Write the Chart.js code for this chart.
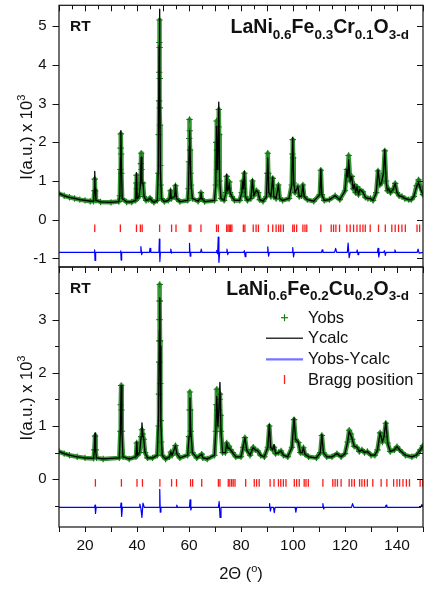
<!DOCTYPE html>
<html>
<head>
<meta charset="utf-8">
<style>
  html, body { margin: 0; padding: 0; background: #fff; }
  #wrap { position: relative; width: 435px; height: 593px; }
  #wrap canvas { position: absolute; left: 0; top: 0; }
</style>
</head>
<body>
<div id="wrap">
  <canvas id="topChart" width="435" height="593"></canvas>
  <canvas id="bottomChart" width="435" height="593"></canvas>
</div>
<script src="https://cdn.jsdelivr.net/npm/chart.js@4.4.1/dist/chart.umd.min.js"></script>
<script>
// 2-theta range and intensity ranges (x 10^3) of the two panels
const xMin = 10, xMax = 150;
const yRangeTop = [-1.22, 5.54];
const yRangeBottom = [-0.9, 3.99];

const sampleLabel = "RT";
const formulaTop = [["LaNi", ""], ["0.6", "sub"], ["Fe", ""], ["0.3", "sub"], ["Cr", ""], ["0.1", "sub"], ["O", ""], ["3-d", "sub"]];
const formulaBottom = [["LaNi", ""], ["0.6", "sub"], ["Fe", ""], ["0.2", "sub"], ["Cu", ""], ["0.2", "sub"], ["O", ""], ["3-d", "sub"]];
const legendNames = ["Yobs", "Ycalc", "Yobs-Ycalc", "Bragg position"];
const yTitle = [["I(a.u.) x 10", ""], ["3", "sup"]];
const xTitle = [["2\u0398 (", ""], ["o", "sup"], [")", ""]];

// LaNi0.6Fe0.3Cr0.1O3-d
const obsTop = [[10,0.68],[12,0.62],[14,0.58],[16,0.55],[18,0.52],[20,0.5],[22,0.48],[23.3,0.48],[23.6,0.75],[23.75,1.05],[23.9,0.75],[24.2,0.5],[26,0.46],[30,0.45],[33,0.47],[33.4,0.62],[33.6,1.3],[33.7,1.85],[33.8,2.22],[33.9,1.7],[34,1.2],[34.3,0.55],[36,0.46],[38,0.46],[39.5,0.5],[39.7,0.95],[39.8,1.15],[39.95,0.8],[40.1,0.55],[40.8,0.6],[41.3,0.9],[41.5,1.45],[41.6,1.72],[41.75,1.3],[41.9,0.95],[42.3,0.95],[42.7,0.6],[43.5,0.5],[44.5,0.52],[45,0.56],[45.6,0.5],[46.5,0.45],[47.8,0.5],[48.2,1.2],[48.4,2.2],[48.5,3.07],[48.55,3.81],[48.6,4.58],[48.65,5.16],[48.7,4.45],[48.75,3.65],[48.8,2.89],[48.85,2.44],[48.95,1.4],[49.1,0.9],[49.4,0.55],[50.5,0.47],[52,0.5],[52.6,0.55],[52.9,0.75],[53.2,0.55],[54.5,0.6],[54.8,0.88],[55.2,0.55],[56.5,0.47],[59.5,0.5],[59.8,0.8],[60,1.5],[60.1,2.1],[60.2,2.59],[60.3,2.3],[60.4,1.8],[60.6,1.2],[60.8,0.9],[61.3,0.55],[63.5,0.48],[64.3,0.55],[64.6,0.7],[64.9,0.55],[66,0.47],[69.8,0.5],[70.3,0.9],[70.5,2],[70.6,2.55],[70.75,1.8],[70.9,1.3],[71.1,1.5],[71.3,2.4],[71.45,2.85],[71.6,2.2],[71.8,1],[72.3,0.55],[73.5,0.5],[74.2,0.7],[74.5,1.12],[74.8,0.75],[75.2,0.8],[75.5,0.98],[75.8,0.7],[76.5,0.6],[77.5,0.5],[79.5,0.5],[80.3,0.7],[80.6,1],[80.9,0.8],[81.3,1.2],[81.7,0.6],[82.5,0.5],[83.8,0.55],[84.4,1],[84.9,0.62],[85.5,0.72],[86,0.75],[86.6,0.7],[87.2,0.52],[88.5,0.48],[89.8,0.6],[90.1,1.2],[90.3,1.72],[90.5,1.2],[90.7,0.7],[91.5,0.6],[92.2,1.07],[92.6,0.6],[93.5,0.55],[94.4,0.9],[94.9,0.55],[96,0.5],[98.5,0.55],[99.5,0.9],[99.75,1.7],[99.9,2.07],[100.05,1.6],[100.3,0.95],[100.8,0.7],[101.9,0.86],[102.4,0.6],[103.3,0.62],[103.8,0.9],[104.3,0.6],[105.5,0.52],[108,0.48],[110.3,0.65],[110.7,1.28],[111.1,0.65],[112,0.5],[114,0.52],[116.2,0.62],[118,0.52],[120,0.75],[120.7,1.3],[121.1,1.15],[121.4,1.66],[122,1],[122.6,1.12],[123.1,0.8],[123.6,0.91],[124.1,0.7],[124.6,0.85],[125.2,0.65],[125.7,0.78],[126.9,0.72],[127.8,0.58],[128.8,0.55],[129.8,0.55],[130.8,0.5],[132,0.7],[132.7,1.26],[133.4,0.9],[134,0.95],[134.8,1.2],[135.3,1.78],[135.8,1],[136.3,0.75],[136.8,0.8],[137.5,0.7],[138.6,0.8],[139.3,0.94],[140,0.7],[140.8,0.62],[141.9,0.6],[143,0.55],[144.5,0.52],[145.5,0.52],[146.5,0.6],[147.5,0.88],[148.3,1.03],[149,0.85],[150,0.65]];
const calcTop = [[10,0.68],[12,0.62],[14,0.58],[16,0.55],[18,0.52],[20,0.5],[22,0.48],[23.3,0.48],[23.6,0.8],[23.75,1.25],[23.9,0.8],[24.2,0.5],[26,0.46],[30,0.45],[33,0.47],[33.4,0.62],[33.65,1.6],[33.8,2.3],[33.95,1.6],[34.3,0.55],[36,0.46],[38,0.46],[39.5,0.5],[39.8,1.21],[40.1,0.55],[40.8,0.6],[41.3,0.9],[41.6,1.62],[41.9,0.95],[42.3,0.95],[42.7,0.6],[43.5,0.5],[44.5,0.52],[45,0.56],[45.6,0.5],[46.5,0.45],[47.8,0.5],[48.2,1.3],[48.5,4.5],[48.65,5.44],[48.8,4],[49,1.3],[49.4,0.55],[50.5,0.47],[52,0.5],[52.6,0.55],[52.9,0.78],[53.2,0.55],[54.5,0.6],[54.8,0.91],[55.2,0.55],[56.5,0.47],[59.5,0.5],[59.8,0.8],[60.1,1.9],[60.25,2.3],[60.4,1.8],[60.8,0.9],[61.3,0.55],[63.5,0.48],[64.3,0.55],[64.6,0.7],[64.9,0.55],[66,0.47],[69.8,0.5],[70.3,0.9],[70.6,2.42],[70.9,1.3],[71.1,1.5],[71.45,3.04],[71.8,1],[72.3,0.55],[73.5,0.5],[74.2,0.7],[74.5,1.17],[74.8,0.75],[75.2,0.8],[75.5,0.95],[75.8,0.7],[76.5,0.6],[77.5,0.5],[79.5,0.5],[80.3,0.7],[80.6,1],[80.9,0.8],[81.3,1.25],[81.7,0.6],[82.5,0.5],[83.8,0.55],[84.4,1.04],[84.9,0.62],[85.5,0.72],[86,0.75],[86.6,0.7],[87.2,0.52],[88.5,0.48],[89.8,0.6],[90.3,1.6],[90.7,0.7],[91.5,0.6],[92.2,1.1],[92.6,0.6],[93.5,0.55],[94.4,0.9],[94.9,0.55],[96,0.5],[98.5,0.55],[99.5,0.9],[99.9,2.12],[100.3,0.95],[100.8,0.7],[101.9,0.86],[102.4,0.6],[103.3,0.62],[103.8,0.9],[104.3,0.6],[105.5,0.52],[108,0.48],[110.3,0.65],[110.7,1.31],[111.1,0.65],[112,0.5],[114,0.52],[116.2,0.62],[118,0.52],[120,0.75],[120.7,1.3],[121.1,1.1],[121.4,1.55],[122,1],[122.6,1.12],[123.1,0.8],[123.6,0.91],[124.1,0.7],[124.6,0.85],[125.2,0.65],[125.7,0.78],[126.9,0.72],[127.8,0.58],[128.8,0.55],[129.8,0.55],[130.8,0.5],[132,0.7],[132.7,1.28],[133.4,0.9],[134,0.95],[134.8,1.2],[135.3,1.81],[135.8,1],[136.3,0.75],[136.8,0.8],[137.5,0.7],[138.6,0.8],[139.3,0.94],[140,0.7],[140.8,0.62],[141.9,0.6],[143,0.55],[144.5,0.52],[145.5,0.52],[146.5,0.6],[147.5,0.85],[148.3,0.96],[149,0.8],[150,0.65]];
const diffTop = [[10,-0.84],[23.5,-0.84],[23.7,-0.78],[23.85,-1.05],[24.1,-0.84],[33.6,-0.84],[33.75,-0.8],[33.9,-1.04],[34.1,-0.84],[41.3,-0.84],[41.5,-0.69],[41.8,-0.9],[42.1,-0.84],[44.8,-0.84],[45,-0.74],[45.3,-0.84],[48.45,-0.84],[48.6,-0.5],[48.8,-1.08],[49,-0.84],[52.8,-0.84],[53,-0.76],[53.3,-0.86],[53.5,-0.84],[60,-0.84],[60.2,-0.61],[60.45,-0.94],[60.7,-0.84],[64.5,-0.84],[64.7,-0.76],[65,-0.84],[70.4,-0.84],[70.7,-0.79],[71,-0.88],[71.25,-0.45],[71.5,-1.1],[71.8,-0.84],[74.4,-0.84],[74.6,-0.76],[74.9,-0.9],[75.2,-0.84],[81,-0.84],[81.3,-0.8],[81.6,-0.95],[81.9,-0.84],[90.1,-0.84],[90.3,-0.7],[90.6,-0.94],[90.9,-0.84],[99.7,-0.84],[99.9,-0.72],[100.2,-0.96],[100.5,-0.84],[111,-0.84],[111.2,-0.78],[111.5,-0.84],[116,-0.84],[116.4,-0.74],[116.8,-0.84],[120.9,-0.84],[121.2,-0.6],[121.6,-0.98],[122,-0.84],[124.5,-0.84],[124.7,-0.78],[125,-0.9],[125.3,-0.84],[132.5,-0.84],[132.7,-0.74],[133,-0.96],[133.3,-0.84],[134.9,-0.84],[135.2,-0.8],[135.5,-0.92],[135.8,-0.84],[139,-0.84],[139.2,-0.78],[139.5,-0.84],[147.8,-0.84],[148.1,-0.76],[148.5,-0.86],[150,-0.84]];
const braggTop = [23.75,33.6,39.8,41.3,42.0,48.7,53.3,55.0,60.1,60.7,64.6,70.6,71.3,74.5,75.0,75.5,76.0,76.5,80.9,81.5,84.7,85.8,86.7,90.5,92.2,93.5,94.5,95.3,96.3,99.9,100.5,101.4,103.8,104.6,105.3,110.7,114.7,115.6,116.5,117.9,120.7,122.0,123.3,124.6,125.8,126.9,127.8,129.7,132.9,135.5,138.0,139.3,140.6,141.9,143.2,147.7,148.7];
const braggLevelTop = -0.22;

// LaNi0.6Fe0.2Cu0.2O3-d
const obsBottom = [[10,0.52],[12,0.48],[14,0.45],[17,0.42],[20,0.4],[23.3,0.39],[23.6,0.55],[23.85,0.81],[24.1,0.55],[24.4,0.4],[27,0.38],[33.2,0.4],[33.6,0.9],[33.75,1.4],[33.9,1.76],[34.05,1.3],[34.2,0.9],[34.6,0.42],[37,0.38],[39.6,0.42],[39.9,0.68],[40.2,0.45],[41,0.5],[41.6,0.8],[41.9,0.93],[42.2,0.85],[42.6,0.75],[43.1,0.5],[44,0.4],[46,0.4],[47.8,0.45],[48.3,1],[48.45,1.6],[48.55,2.2],[48.6,2.6],[48.65,3],[48.7,3.35],[48.75,3.66],[48.8,3.35],[48.85,2.6],[48.95,1.8],[49.1,1.1],[49.3,0.7],[49.7,0.45],[51,0.38],[52.5,0.42],[53,0.51],[53.5,0.45],[54.8,0.63],[55.3,0.48],[56.5,0.4],[59.5,0.45],[60,0.8],[60.2,1.3],[60.35,1.64],[60.5,1.3],[60.7,0.9],[61.3,0.5],[63,0.4],[64.9,0.47],[65.3,0.4],[67,0.38],[69.8,0.45],[70.3,0.9],[70.5,1.4],[70.7,1.69],[70.9,1.3],[71.1,1],[71.5,1.3],[71.7,1.5],[71.9,1.6],[72.1,1.2],[72.3,0.9],[72.9,0.5],[74,0.5],[74.5,0.68],[75,0.58],[75.4,0.62],[76,0.55],[76.8,0.5],[78,0.42],[80,0.42],[80.8,0.6],[81.5,0.78],[82.2,0.55],[83.5,0.45],[84.3,0.56],[84.7,0.6],[85.5,0.55],[86.5,0.53],[87.5,0.45],[89,0.42],[90.3,0.6],[90.9,1],[91.4,0.6],[92.2,0.55],[92.7,0.6],[93.3,0.48],[94.5,0.5],[95.4,0.53],[96.3,0.45],[98,0.42],[99.6,0.6],[100.4,1.12],[101,0.75],[102.1,0.69],[102.8,0.5],[103.5,0.5],[104,0.59],[104.6,0.47],[106,0.42],[109,0.4],[110.5,0.5],[111.1,0.82],[111.7,0.5],[113,0.42],[115,0.42],[116.9,0.48],[118.5,0.42],[120,0.48],[121,0.7],[121.6,0.92],[122.3,0.85],[122.8,0.75],[123.5,0.62],[124.6,0.6],[125.5,0.52],[126.5,0.55],[127.5,0.5],[128.6,0.52],[130,0.45],[131.5,0.45],[132.5,0.55],[133.5,0.87],[134.4,0.7],[135,0.8],[135.7,1.05],[136.4,0.68],[137.4,0.52],[139,0.55],[140,0.61],[141,0.55],[143.2,0.45],[145.7,0.42],[147.5,0.45],[149,0.55],[150,0.63]];
const calcBottom = [[10,0.52],[12,0.48],[14,0.45],[17,0.42],[20,0.4],[23.3,0.39],[23.6,0.55],[23.85,0.87],[24.1,0.55],[24.4,0.4],[27,0.38],[33.2,0.4],[33.6,0.9],[33.9,1.76],[34.2,0.9],[34.6,0.42],[37,0.38],[39.6,0.42],[39.9,0.7],[40.2,0.45],[41,0.5],[41.6,0.8],[41.9,1.06],[42.2,0.85],[42.6,0.75],[43.1,0.5],[44,0.4],[46,0.4],[47.8,0.45],[48.3,1.2],[48.6,2.8],[48.75,3.41],[48.9,2.5],[49.2,1],[49.7,0.45],[51,0.38],[52.5,0.42],[53,0.51],[53.5,0.45],[54.8,0.63],[55.3,0.48],[56.5,0.4],[59.5,0.45],[60,0.8],[60.35,1.53],[60.7,0.9],[61.3,0.5],[63,0.4],[64.9,0.47],[65.3,0.4],[67,0.38],[69.8,0.45],[70.3,0.9],[70.7,1.56],[71.1,1],[71.5,1.3],[71.9,1.82],[72.3,0.9],[72.9,0.5],[74,0.5],[74.5,0.68],[75,0.58],[75.4,0.59],[76,0.55],[76.8,0.5],[78,0.42],[80,0.42],[80.8,0.6],[81.5,0.78],[82.2,0.55],[83.5,0.45],[84.3,0.56],[84.7,0.59],[85.5,0.55],[86.5,0.53],[87.5,0.45],[89,0.42],[90.3,0.6],[90.9,1.03],[91.4,0.6],[92.2,0.55],[92.7,0.65],[93.3,0.48],[94.5,0.5],[95.4,0.53],[96.3,0.45],[98,0.42],[99.6,0.6],[100.4,1.15],[101,0.75],[102.1,0.69],[102.8,0.5],[103.5,0.5],[104,0.59],[104.6,0.47],[106,0.42],[109,0.4],[110.5,0.5],[111.1,0.84],[111.7,0.5],[113,0.42],[115,0.42],[116.9,0.48],[118.5,0.42],[120,0.48],[121,0.7],[121.6,0.9],[122.3,0.82],[122.8,0.75],[123.5,0.62],[124.6,0.6],[125.5,0.52],[126.5,0.55],[127.5,0.5],[128.6,0.52],[130,0.45],[131.5,0.45],[132.5,0.55],[133.5,0.87],[134.4,0.7],[135,0.8],[135.7,1.07],[136.4,0.68],[137.4,0.52],[139,0.55],[140,0.61],[141,0.55],[143.2,0.45],[145.7,0.42],[147.5,0.45],[149,0.55],[150,0.63]];
const diffBottom = [[10,-0.53],[23.7,-0.53],[23.85,-0.49],[24.05,-0.645],[24.3,-0.53],[33.7,-0.53],[33.85,-0.45],[34.1,-0.7],[34.4,-0.53],[40.8,-0.53],[41.1,-0.47],[41.5,-0.55],[41.9,-0.72],[42.3,-0.45],[42.8,-0.53],[48.6,-0.53],[48.75,-0.19],[48.95,-0.62],[49.2,-0.53],[55,-0.53],[55.3,-0.49],[55.6,-0.53],[60.2,-0.53],[60.4,-0.39],[60.7,-0.58],[61,-0.53],[71.3,-0.53],[71.6,-0.42],[71.95,-0.72],[72.3,-0.53],[90.8,-0.53],[91,-0.46],[91.3,-0.6],[91.6,-0.53],[92.5,-0.53],[92.8,-0.63],[93.1,-0.53],[100.8,-0.53],[101.1,-0.62],[101.4,-0.53],[111.3,-0.53],[111.5,-0.46],[111.8,-0.56],[112.1,-0.53],[122.5,-0.53],[122.9,-0.46],[123.4,-0.53],[135.5,-0.53],[135.8,-0.49],[136.1,-0.53],[149,-0.53],[149.6,-0.48],[150,-0.5]];
const braggBottom = [24.0,34.0,40.0,42.1,48.8,53.3,55.2,60.6,61.4,64.9,71.3,71.9,75.1,75.7,76.4,77.0,77.7,81.8,85.1,86.0,87.0,91.2,92.7,94.4,95.3,96.3,97.3,100.5,101.4,102.4,104.3,105.0,105.9,111.5,115.3,116.2,117.1,118.5,121.6,122.6,123.6,125.6,126.5,127.5,128.6,130.7,133.9,136.1,138.7,140.0,141.0,142.3,143.6,144.8,148.9,149.9];
const braggLevelBottom = -0.07;

const FONT = "'Liberation Sans', Arial, sans-serif";
const INK = "#111";

Chart.defaults.font.family = FONT;
Chart.defaults.color = INK;

// draws a run of text pieces, some of them sub/superscripted
function drawRich(ctx, parts, x, y, align, size, small, weight) {
  const fontOf = mode => weight + " " + (mode ? small : size) + "px " + FONT;
  let total = 0;
  for (const [t, mode] of parts) {
    ctx.font = fontOf(mode);
    total += ctx.measureText(t).width;
  }
  let cx = align === "right" ? x - total : align === "center" ? x - total / 2 : x;
  ctx.textAlign = "left";
  ctx.textBaseline = "alphabetic";
  for (const [t, mode] of parts) {
    ctx.font = fontOf(mode);
    const dy = mode === "sub" ? size * 0.28 : mode === "sup" ? -size * 0.42 : 0;
    ctx.fillText(t, cx, y + dy);
    cx += ctx.measureText(t).width;
  }
}

const panelDecor = {
  id: "panelDecor",
  afterDatasetsDraw(chart, args, o) {
    const { ctx, chartArea: a } = chart;
    const xs = chart.scales.x, ys = chart.scales.y;
    const seg = (x1, y1, x2, y2) => {
      ctx.beginPath(); ctx.moveTo(x1, y1); ctx.lineTo(x2, y2); ctx.stroke();
    };
    ctx.save();
    ctx.strokeStyle = INK;
    ctx.lineWidth = 1.2;
    ctx.strokeRect(a.left, a.top, a.right - a.left, a.bottom - a.top);

    // y ticks: out on the left, in on the right
    ctx.lineWidth = 1;
    ys.ticks.forEach(t => {
      const p = Math.round(ys.getPixelForValue(t.value)) + 0.5;
      const major = Number.isInteger(t.value);
      seg(a.left - (major ? 6.5 : 4), p, a.left, p);
      seg(a.right - (major ? 6 : 4), p, a.right, p);
    });
    // x ticks along the top edge, every 5 deg, pointing in
    for (let v = xMin; v <= xMax; v += 5) {
      const p = Math.round(xs.getPixelForValue(v)) + 0.5;
      seg(p, a.top, p, a.top + (v % 10 === 0 ? 6 : 4));
    }
    if (o.xAxis) {
      for (let v = xMin; v <= xMax; v += 10) {
        const p = Math.round(xs.getPixelForValue(v)) + 0.5;
        seg(p, a.bottom, p, a.bottom + 5);
      }
      ctx.fillStyle = INK;
      drawRich(ctx, xTitle, (a.left + a.right) / 2, chart.height - 14, "center", 16.5, 11, "normal");
    }

    ctx.fillStyle = INK;
    ctx.font = "bold 15.5px " + FONT;
    ctx.textAlign = "left";
    ctx.fillText(sampleLabel, a.left + 11, a.top + 26);
    drawRich(ctx, o.formula, a.right - 14, a.top + 27.8, "right", 19.5, 13.5, "bold");

    // rotated y title
    ctx.save();
    ctx.translate(32, (a.top + a.bottom) / 2 + 1);
    ctx.rotate(-Math.PI / 2);
    drawRich(ctx, yTitle, 0, 0, "center", 16.5, 11, "normal");
    ctx.restore();

    if (o.legend) {
      const tx = 308, sx = 284.5, rows = [a.top + 55.7, a.top + 76.3, a.top + 97.3, a.top + 118];
      ctx.font = "16.5px " + FONT;
      legendNames.forEach((n, i) => ctx.fillText(n, tx, rows[i]));
      ctx.strokeStyle = "#128212"; ctx.lineWidth = 1.2;
      seg(sx - 3.5, rows[0] - 5, sx + 3.5, rows[0] - 5);
      seg(sx, rows[0] - 8.5, sx, rows[0] - 1.5);
      ctx.strokeStyle = "#333"; ctx.lineWidth = 1.4;
      seg(266, rows[1] - 5, 303, rows[1] - 5);
      ctx.strokeStyle = "#7474ff"; ctx.lineWidth = 2.2;
      seg(266, rows[2] - 5, 303, rows[2] - 5);
      ctx.strokeStyle = "#ff2020"; ctx.lineWidth = 1.3;
      seg(sx, rows[3] - 10, sx, rows[3] - 1);
    }
    ctx.restore();
  }
};

function makePanel(canvasId, obs, calc, diff, bragg, braggLevel, yRange, pad, withXAxis, formula) {
  return new Chart(document.getElementById(canvasId), {
    type: "line",
    data: {
      datasets: [
        { label: "Ycalc", data: calc, borderColor: "#000", borderWidth: 1.3, pointRadius: 0, tension: 0,
          borderJoinStyle: "round" },
        { label: "Yobs", data: obs, borderColor: "rgba(18,130,18,0.85)", borderWidth: 4.5, tension: 0,
          borderJoinStyle: "round", borderCapStyle: "round",
          pointStyle: "cross", pointRadius: 3.2, pointBorderColor: "#127a12", pointBorderWidth: 1.1 },
        { label: "Yobs-Ycalc", data: diff, borderColor: "#0000ff", borderWidth: 1.2, pointRadius: 0, tension: 0,
          borderJoinStyle: "round" },
        { label: "Bragg position", data: bragg.map(v => [v, braggLevel]), showLine: false,
          pointStyle: "line", rotation: 90, pointRadius: 3.8, pointBorderColor: "#ff1a1a", pointBorderWidth: 1.3 }
      ]
    },
    options: {
      responsive: false,
      animation: false,
      events: [],
      devicePixelRatio: 1,
      layout: { padding: pad },
      plugins: {
        legend: { display: false },
        tooltip: { enabled: false },
        panelDecor: { legend: withXAxis, xAxis: withXAxis, formula: formula }
      },
      scales: {
        x: {
          type: "linear", min: xMin, max: xMax, display: withXAxis,
          grid: { display: false, drawTicks: false },
          border: { display: false },
          ticks: { stepSize: 10, autoSkip: false, maxRotation: 0, padding: 9,
                   font: { size: 15.5 }, callback: v => (v % 20 === 0 ? v : "") },
          afterFit: s => {
            if (withXAxis) s.height = 66;
            s.paddingLeft = 0; s.paddingRight = 0;
          }
        },
        y: {
          min: yRange[0], max: yRange[1],
          grid: { display: false, drawTicks: false },
          border: { display: false },
          ticks: { stepSize: 0.5, includeBounds: false, padding: 12.5,
                   font: { size: 15 }, callback: v => (Number.isInteger(v) ? v : "") },
          afterFit: s => {
            s.width = 59;
            // the panel edges are set by the layout padding alone
            s.paddingTop = 0; s.paddingBottom = 0;
          }
        }
      }
    },
    plugins: [panelDecor]
  });
}

makePanel("topChart", obsTop, calcTop, diffTop, braggTop, braggLevelTop, yRangeTop,
  { top: 5, right: 12, bottom: 326, left: 0 }, false, formulaTop);
makePanel("bottomChart", obsBottom, calcBottom, diffBottom, braggBottom, braggLevelBottom, yRangeBottom,
  { top: 267, right: 12, bottom: 0, left: 0 }, true, formulaBottom);
</script>
</body>
</html>
